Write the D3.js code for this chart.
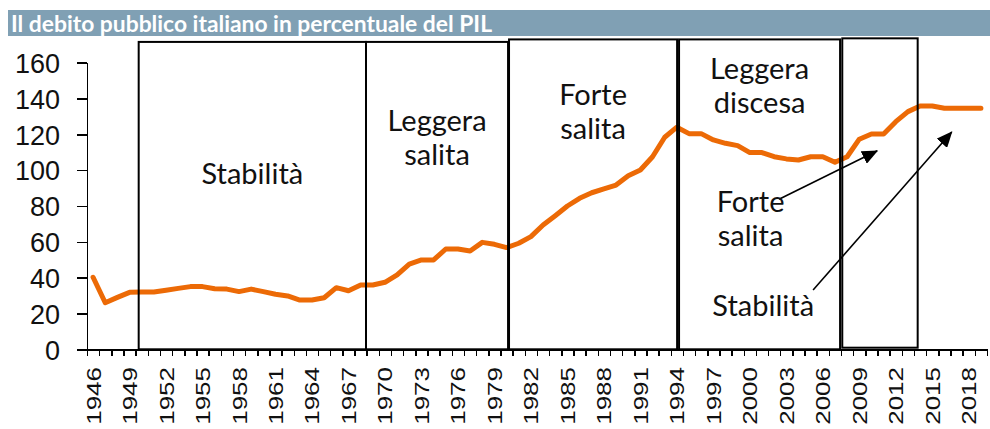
<!DOCTYPE html>
<html>
<head>
<meta charset="utf-8">
<script src="https://cdn.jsdelivr.net/npm/d3@7"></script>
<style>
    body { margin: 0; background: #fff; }
    svg { display: block; }
    .axis path, .axis line { stroke: #000; stroke-width: 1.5; shape-rendering: crispEdges; }
    .y-tick { font-family: "Liberation Sans", Arial, sans-serif; font-size: 27px; fill: #111; }
    .x-label { font-family: "Liberation Sans", Arial, sans-serif; font-size: 26px; fill: #111; }
    .note { font-family: Lato, "Open Sans", sans-serif; font-size: 29px; fill: #111; }
</style>
</head>
<body>
<div id="chart"></div>
<script>
// categories
var years = d3.range(1946, 2020);
var labelYears = years.filter(function (y, i) { return i % 3 === 0; });

// debt / GDP (%)
var debt = [
    40.2, 26, 29, 31.8, 32, 32, 33, 34, 35, 35,
    33.8, 33.6, 32.2, 33.6, 32.2, 30.7, 29.8, 27.5, 27.5, 28.8,
    34.4, 32.7, 35.9, 35.9, 37.4, 41.5, 47.6, 49.9, 49.9, 56,
    56, 54.9, 59.7, 58.6, 56.8, 59.2, 62.9, 69.4, 74.6, 80,
    84.3, 87.4, 89.5, 91.7, 96.9, 100.1, 107.5, 118.4, 124, 120.4,
    120.4, 116.9, 115, 113.7, 109.8, 109.8, 107.5, 106.3, 105.7, 107.5,
    107.5, 104.4, 107.5, 117.3, 120.2, 120.2, 127.1, 132.7, 135.8, 135.8,
    134.6, 134.6, 134.6, 134.6
];
var yTicks = [0, 20, 40, 60, 80, 100, 120, 140, 160];

// periods (boxes), in years / values
var periodStart = [1949.75, 1968.44, 1980.2, 1994.18, 2007.6];
var periodEnd   = [1968.44, 1980.12, 1994.02, 2007.42, 2013.8];
var periodTop   = [171.6, 171.6, 173, 173, 173.6];
var periodLabel = [["Stabilità"], ["Leggera", "salita"], ["Forte", "salita"], ["Leggera", "discesa"], []];
var periodLabelAt = [92.3, 121.9, 136.4, 151.1, 0];

// free annotations with arrows
var noteText = [["Forte", "salita"], ["Stabilità"]];
var noteAt = [[2000.06, 76.8], [2001.1, 18.6]];
var arrowFrom = [[2002.4, 83.8], [2005.2, 33.1]];
var arrowTo = [[2010.47, 110.8], [2016.6, 121.3]];

var W = 990, H = 429;
var svg = d3.select("#chart").append("svg")
    .attr("width", W)
    .attr("height", H);

// title bar
svg.append("rect")
    .attr("x", 8).attr("y", 10)
    .attr("width", 982).attr("height", 26)
    .attr("fill", "#80a0b4");
svg.append("text")
    .attr("x", 11).attr("y", 31.5)
    .attr("textLength", 481)
    .attr("lengthAdjust", "spacingAndGlyphs")
    .style("font-family", "Lato, 'Open Sans', sans-serif")
    .style("font-weight", "bold")
    .style("font-size", "23px")
    .style("fill", "#fff")
    .text("Il debito pubblico italiano in percentuale del PIL");

// scales
var x = d3.scaleLinear().domain([1945.5, 2019.5]).range([87, 987]);
var y = d3.scaleLinear().domain([0, 160]).range([349.3, 62.7]);

// line
var line = d3.line()
    .x(function (d, i) { return x(years[i]); })
    .y(function (d) { return y(d); });

svg.append("path")
    .datum(debt)
    .attr("d", line)
    .attr("fill", "none")
    .attr("stroke", "#ec6a06")
    .attr("stroke-width", 5)
    .attr("stroke-linejoin", "round")
    .attr("stroke-linecap", "round");

// y axis
var yAxis = svg.append("g")
    .attr("class", "axis")
    .attr("transform", "translate(87,0)")
    .call(d3.axisLeft(y).tickValues(yTicks).tickSize(10).tickSizeOuter(0).tickPadding(17));
yAxis.selectAll("text").attr("class", "y-tick").attr("dy", "0.36em");

// x axis (tick marks between categories)
var xAxis = svg.append("g")
    .attr("class", "axis")
    .attr("transform", "translate(0,349.3)")
    .call(d3.axisBottom(x)
        .tickValues(d3.range(1945.5, 2020, 1))
        .tickSize(7).tickSizeOuter(0)
        .tickFormat(""));

svg.append("g").selectAll("text")
    .data(labelYears)
    .enter().append("text")
    .attr("class", "x-label")
    .attr("text-anchor", "end")
    .attr("dy", "0.36em")
    .attr("transform", function (d) {
        return "translate(" + x(d) + ",367) scale(0.8,1) rotate(-90)";
    })
    .text(function (d) { return d; });

// period boxes (drawn over the line)
var boxes = svg.append("g");
periodStart.forEach(function (s, i) {
    var bottom = i === 4 ? 0.9 : 0;
    boxes.append("rect")
        .attr("x", x(s))
        .attr("y", y(periodTop[i]))
        .attr("width", x(periodEnd[i]) - x(s))
        .attr("height", y(bottom) - y(periodTop[i]))
        .attr("fill", "none")
        .attr("stroke", "#000")
        .attr("stroke-width", 2);

    var cx = (x(s) + x(periodEnd[i])) / 2;
    periodLabel[i].forEach(function (t, j) {
        boxes.append("text")
            .attr("class", "note")
            .attr("text-anchor", "middle")
            .attr("x", cx)
            .attr("y", y(periodLabelAt[i]) + j * 34)
            .text(t);
    });
});

// arrows
svg.append("defs").append("marker")
    .attr("id", "head")
    .attr("markerUnits", "userSpaceOnUse")
    .attr("markerWidth", 16).attr("markerHeight", 14)
    .attr("refX", 15).attr("refY", 7)
    .attr("orient", "auto")
    .append("path")
    .attr("d", "M0,0L16,7L0,14Z")
    .attr("fill", "#000");

arrowFrom.forEach(function (a, i) {
    svg.append("line")
        .attr("x1", x(a[0])).attr("y1", y(a[1]))
        .attr("x2", x(arrowTo[i][0])).attr("y2", y(arrowTo[i][1]))
        .attr("stroke", "#000")
        .attr("stroke-width", 1.6)
        .attr("marker-end", "url(#head)");
});

noteText.forEach(function (lines, i) {
    lines.forEach(function (t, j) {
        svg.append("text")
            .attr("class", "note")
            .attr("text-anchor", "middle")
            .attr("x", x(noteAt[i][0]))
            .attr("y", y(noteAt[i][1]) + j * 34)
            .text(t);
    });
});
</script>
</body>
</html>
